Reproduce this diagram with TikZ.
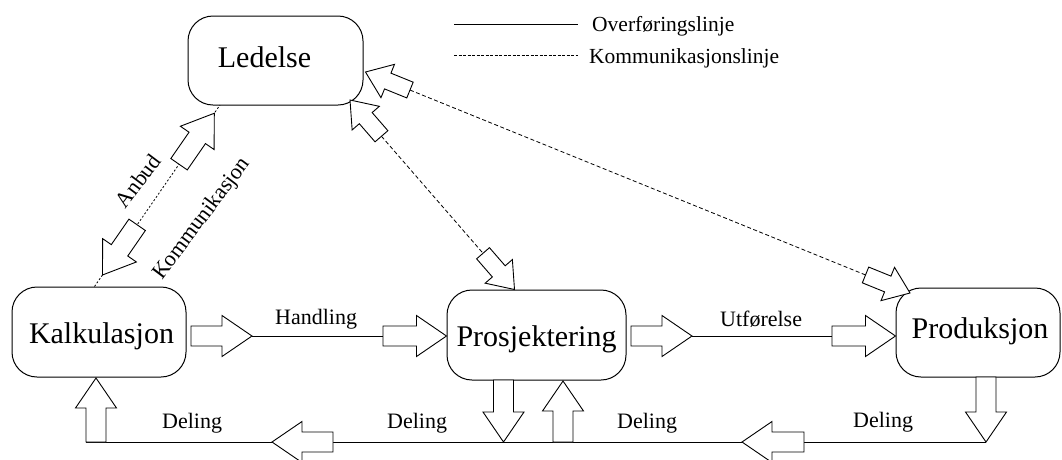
\documentclass[tikz,border=0pt]{standalone}
\usepackage{fontspec}
\setmainfont{Liberation Serif}
\usetikzlibrary{calc}

% hollow block arrow: #1 tail, #2 tip, #3 half shaft width, #4 half head width, #5 head length
\newcommand\blockarrow[5]{%
  \coordinate (bahead) at ($(#2)!#5!(#1)$);
  \draw[blk] ($(#1)!#3!90:(#2)$) -- ($(bahead)!#3!90:(#2)$) -- ($(bahead)!#4!90:(#2)$)
    -- (#2) -- ($(bahead)!#4!-90:(#2)$) -- ($(bahead)!#3!-90:(#2)$) -- ($(#1)!#3!-90:(#2)$) -- cycle;
}
\newcommand\bigarrow[2]{\blockarrow{#1}{#2}{10pt}{20.5pt}{30pt}}
\newcommand\smallarrow[2]{\blockarrow{#1}{#2}{8.5pt}{18pt}{24pt}}

\begin{document}
\begin{tikzpicture}[x=1pt,y=-1pt,
  box/.style={draw, line width=1pt, rounded corners=25pt, inner sep=0pt,
              font=\fontsize{30}{36}\selectfont, text depth=0pt},
  lbl/.style={font=\fontsize{22}{26}\selectfont, inner sep=0pt, anchor=base west},
  rlbl/.style={font=\fontsize{22}{26}\selectfont, inner sep=0pt, rotate=53},
  flow/.style={line width=0.9pt},
  comm/.style={line width=0.8pt, dash pattern=on 4pt off 2.5pt},
  dotline/.style={line width=0.8pt, dash pattern=on 2pt off 2pt},
  legdash/.style={line width=0.8pt, dash pattern=on 3pt off 1.5pt},
  blk/.style={draw, fill=white, line width=0.9pt, line join=miter}]

\useasboundingbox (0,0) rectangle (1062,459);

% departments
\node[box, minimum width=175pt, minimum height=89pt, text height=13pt] (led) at (275.5,60.5) {\hspace*{-22pt}Ledelse};
\node[box, minimum width=174pt, minimum height=90pt, text height=22pt] (kalk) at (99,332) {\hspace*{5pt}Kalkulasjon};
\node[box, minimum width=179pt, minimum height=90pt, text height=22pt] (prosj) at (536.5,335) {Prosjektering};
\node[box, minimum width=164pt, minimum height=89pt, text height=11pt] (prod) at (978,332.5) {\hspace*{4pt}Produksjon};

% legend
\coordinate (lg1a) at (454,24); \coordinate (lg1b) at (578,24);
\coordinate (lg2a) at (454,55); \coordinate (lg2b) at (578,55);
\draw[flow] (lg1a) -- (lg1b);
\draw[legdash] (lg2a) -- (lg2b);
\node[lbl, font=\fontsize{21.5}{26}\selectfont] (lgt1) at (592,31) {Overføringslinje};
\node[lbl, font=\fontsize{21.5}{26}\selectfont] (lgt2) at (589,63) {Kommunikasjonslinje};

% transfer rows
\coordinate (h1t) at (191,336); \coordinate (h1p) at (252,336);
\coordinate (h2t) at (383,336); \coordinate (h2p) at (prosj.west |- h1t);
\coordinate (u1t) at (631,336); \coordinate (u1p) at (692,336);
\coordinate (u2t) at (832,336); \coordinate (u2p) at (prod.west |- u1t);
\draw[flow] (h1p) -- (h2t);
\draw[flow] (u1p) -- (u2t);

\coordinate (bl) at (86,442);
\coordinate (kat) at (96,442);    \coordinate (kap) at (96,378);
\coordinate (l1t) at (333,442);   \coordinate (l1p) at (272,442);
\coordinate (pdt) at (503.5,380); \coordinate (pdp) at (503.5,442);
\coordinate (put) at (563,442);   \coordinate (pup) at (563,381);
\coordinate (l2t) at (804,442);   \coordinate (l2p) at (742,442);
\coordinate (rdt) at (986,377);   \coordinate (rdp) at (986,442);
\draw[flow] (bl) -- (rdp);

% communication lines
\coordinate (klk) at ($(kalk.north west)+(83,0)$);
\coordinate (kll) at (220,105);
\draw[dotline] (klk) -- (kll);
\coordinate (kdp) at ($(klk)!14pt!(kll)$);  \coordinate (kdt) at ($(klk)!75pt!(kll)$);
\coordinate (kup) at ($(kll)!10pt!(klk)$);  \coordinate (kut) at ($(kll)!72pt!(klk)$);

\coordinate (pll) at (350,100);
\coordinate (plp) at ($(prosj.north west)+(68,0)$);
\coordinate (pla) at ($(pll)!48pt!(plp)$);
\coordinate (plb) at ($(plp)!48pt!(pll)$);
\draw[comm] (pla) -- (plb);

\coordinate (rll) at ($(led.east)+(2,11.5)$);
\coordinate (rlp) at (910,293);
\coordinate (rla) at ($(rll)!48pt!(rlp)$);
\coordinate (rlb) at ($(rlp)!48pt!(rll)$);
\draw[comm] (rla) -- (rlb);

% block arrows
\bigarrow{h1t}{h1p}
\bigarrow{h2t}{h2p}
\bigarrow{u1t}{u1p}
\bigarrow{u2t}{u2p}
\bigarrow{kat}{kap}
\bigarrow{l1t}{l1p}
\bigarrow{pdt}{pdp}
\bigarrow{put}{pup}
\bigarrow{l2t}{l2p}
\bigarrow{rdt}{rdp}
\bigarrow{kdt}{kdp}
\bigarrow{kut}{kup}
\smallarrow{pla}{pll}
\smallarrow{plb}{plp}
\smallarrow{rla}{rll}
\smallarrow{rlb}{rlp}

% labels
\node[lbl] (hand) at (275,324) {Handling};
\node[lbl] (utf) at (720,326) {Utførelse};
\node[lbl] (del1) at (162,428) {Deling};
\node[lbl] (del2) at (387,428) {Deling};
\node[lbl] (del3) at (617,428) {Deling};
\node[lbl] (del4) at (853,427) {Deling};
\node[rlbl] (anb) at (138,181) {Anbud};
\node[rlbl] (komm) at (202,219) {Kommunikasjon};
\end{tikzpicture}
\end{document}
